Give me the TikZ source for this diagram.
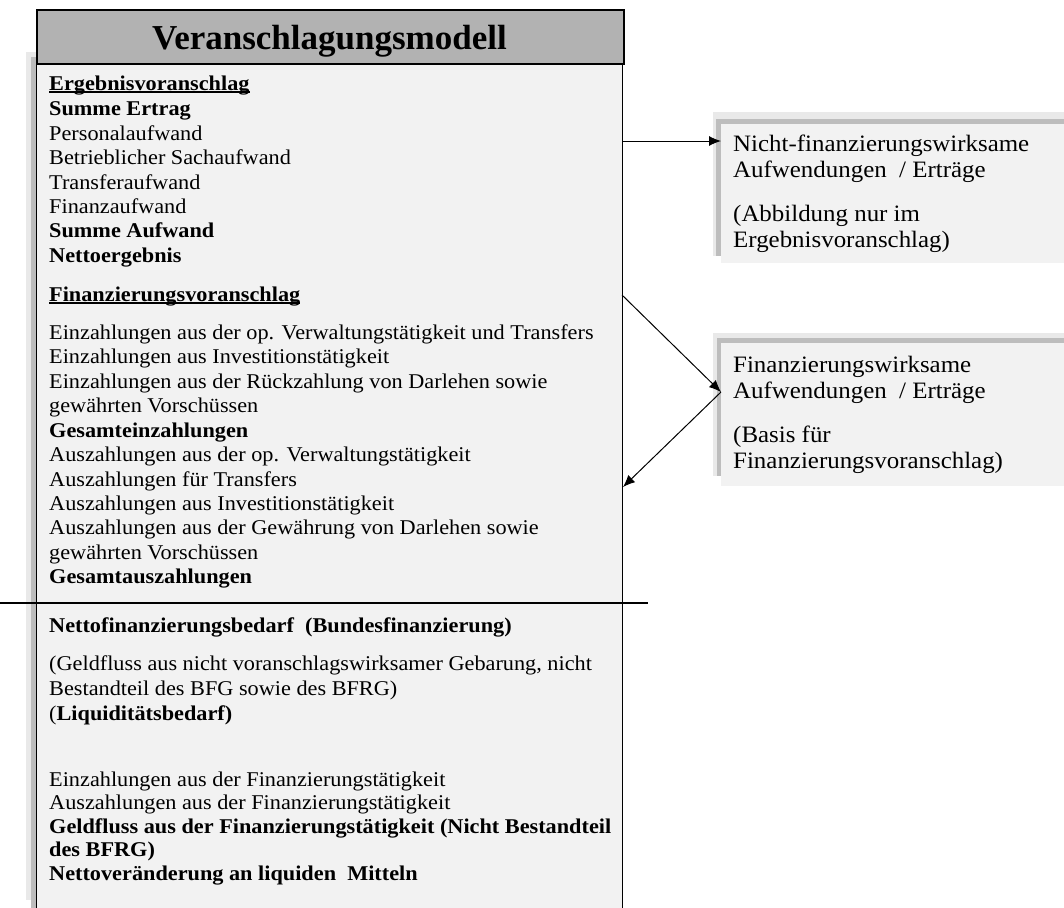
\documentclass[tikz,border=0pt]{standalone}
\usepackage{fontspec}
\setmainfont{Liberation Serif}[FakeStretch=1.06]
\newfontfamily\titlefont{Liberation Serif}
\usetikzlibrary{arrows.meta}
\definecolor{hdrfill}{HTML}{B2B2B2}
\definecolor{panefill}{HTML}{F2F2F2}
\definecolor{stripgray}{HTML}{BDBDBD}
\definecolor{halogray}{HTML}{E9E9E9}
\begin{document}
\begin{tikzpicture}[x=1pt,y=-1pt,
  ln/.style={anchor=base west, inner sep=0pt, font=\fontsize{21}{24.4}\selectfont},
  lnb/.style={anchor=base west, inner sep=0pt, font=\fontsize{21}{24.4}\selectfont\bfseries},
  rl/.style={anchor=base west, inner sep=0pt, font=\fontsize{23.5}{26}\selectfont},
  ul/.style={line width=1.4pt},
  pane/.style={rectangle, fill=panefill, inner sep=0pt, anchor=north west},
  arr/.style={line width=1pt, -{Latex[length=12pt,width=10pt]}}]
\useasboundingbox (0,0) rectangle (1064,907);
% main box shadow
\fill[halogray] (26,52) rectangle (36,900);
\fill[stripgray] (31,57) rectangle (36,912);
% body and header
\node[pane, draw=black, line width=1.2pt, minimum width=586pt, minimum height=851pt] (body) at (36,63) {};
\node[rectangle, fill=hdrfill, draw=black, line width=1.6pt, inner sep=0pt, anchor=north west, minimum width=587pt, minimum height=54pt] (head) at (36,9) {};
\node[anchor=base, inner sep=0pt, font=\titlefont\fontsize{35}{40}\selectfont\bfseries] (title) at (329.5,49) {Veranschlagungsmodell};
% right box 1
\fill[halogray] (713,112) rectangle (1070,256);
\fill[stripgray] (716,119) rectangle (1070,256);
\node[pane, minimum width=350pt, minimum height=139pt] (box1) at (721,124) {};
% right box 2
\fill[halogray] (713,333) rectangle (1070,476);
\fill[stripgray] (717,338) rectangle (1070,476);
\node[pane, minimum width=350pt, minimum height=143pt] (box2) at (721,343) {};
% separator line
\coordinate (sepL) at (0,603);
\coordinate (sepR) at (648,603);
\draw[line width=1.2pt] (sepL) -- (sepR);
% block A
\node[lnb] (a1) at (49,90) {Ergebnisvoranschlag};
\draw[ul] ([yshift=-2pt]a1.base west) -- ([yshift=-2pt]a1.base east);
\node[lnb] (a2) at (49,115) {Summe Ertrag};
\node[ln] (a3) at (49,140) {Personalaufwand};
\node[ln] (a4) at (49,164) {Betrieblicher Sachaufwand};
\node[ln] (a5) at (49,189) {Transferaufwand};
\node[ln] (a6) at (49,213) {Finanzaufwand};
\node[lnb] (a7) at (49,237) {Summe Aufwand};
\node[lnb] (a8) at (49,262) {Nettoergebnis};
% block B
\node[lnb] (b1) at (49,301) {Finanzierungsvoranschlag};
\draw[ul] ([yshift=-2pt]b1.base west) -- ([yshift=-2pt]b1.base east);
% block C
\node[ln] (c1) at (49,339) {Einzahlungen aus der op. Verwaltungstätigkeit und Transfers};
\node[ln] (c2) at (49,363) {Einzahlungen aus Investitionstätigkeit};
\node[ln] (c3) at (49,388) {Einzahlungen aus der Rückzahlung von Darlehen sowie};
\node[ln] (c4) at (49,412) {gewährten Vorschüssen};
\node[lnb] (c5) at (49,437) {Gesamteinzahlungen};
\node[ln] (c6) at (49,461) {Auszahlungen aus der op. Verwaltungstätigkeit};
\node[ln] (c7) at (49,486) {Auszahlungen für Transfers};
\node[ln] (c8) at (49,510) {Auszahlungen aus Investitionstätigkeit};
\node[ln] (c9) at (49,534) {Auszahlungen aus der Gewährung von Darlehen sowie};
\node[ln] (c10) at (49,559) {gewährten Vorschüssen};
\node[lnb] (c11) at (49,583) {Gesamtauszahlungen};
% block D/E
\node[lnb] (d1) at (49,632) {Nettofinanzierungsbedarf\ \ (Bundesfinanzierung)};
\node[ln] (e1) at (49,670) {(Geldfluss aus nicht voranschlagswirksamer Gebarung, nicht};
\node[ln] (e2) at (49,695) {Bestandteil des BFG sowie des BFRG)};
\node[ln] (e3) at (49,720) {(\textbf{Liquiditätsbedarf)}};
% block F
\node[ln] (f1) at (49,786) {Einzahlungen aus der Finanzierungstätigkeit};
\node[ln] (f2) at (49,809) {Auszahlungen aus der Finanzierungstätigkeit};
\node[lnb] (f3) at (49,833) {Geldfluss aus der Finanzierungstätigkeit (Nicht Bestandteil};
\node[lnb] (f4) at (49,856) {des BFRG)};
\node[lnb] (f5) at (49,880) {Nettoveränderung an liquiden\ \ Mitteln};
% right box texts
\node[rl] (r1) at (733,151) {Nicht-finanzierungswirksame};
\node[rl] (r2) at (733,177) {Aufwendungen\ \ / Erträge};
\node[rl] (r3) at (733,221) {(Abbildung nur im};
\node[rl] (r4) at (733,247) {Ergebnisvoranschlag)};
\node[rl] (s1) at (733,372) {Finanzierungswirksame};
\node[rl] (s2) at (733,398) {Aufwendungen\ \ / Erträge};
\node[rl] (s3) at (733,442) {(Basis für};
\node[rl] (s4) at (733,468) {Finanzierungsvoranschlag)};
% connectors
\coordinate (p1) at (622,141);
\coordinate (p2) at (622,295);
\coordinate (m2) at (721,392);
\coordinate (p3) at (623,487);
\draw[arr] (p1) -- (p1 -| box1.west);
\draw[arr] (p2) -- (m2);
\draw[arr] (m2) -- (p3);
\end{tikzpicture}
\end{document}
